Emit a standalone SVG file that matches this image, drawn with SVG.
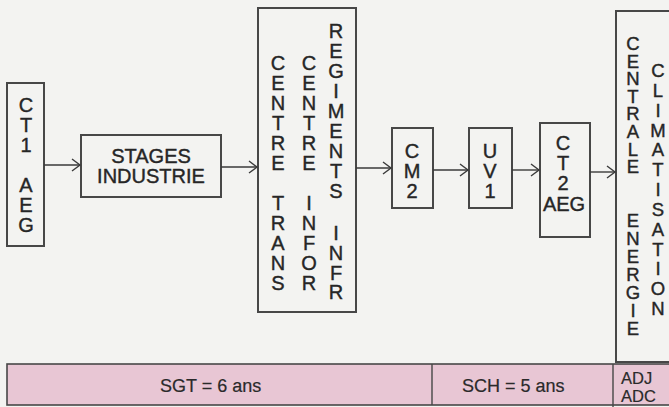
<svg xmlns="http://www.w3.org/2000/svg" width="669" height="407" viewBox="0 0 669 407">
<defs>
<marker id="arr" markerUnits="userSpaceOnUse" markerWidth="12" markerHeight="16" viewBox="-10 -8 12 16" refX="0" refY="0" orient="auto">
<path d="M-8,-6 L0,0 L-8,6" fill="none" stroke="#3a3a3a" stroke-width="1.4"/>
</marker>
</defs>
<style>
.box{fill:none;stroke:#474747;stroke-width:2}
.t{font-family:"Liberation Sans",Arial,sans-serif;font-size:20px;fill:#262626;stroke:#262626;stroke-width:0.4;text-anchor:middle}
.s{font-size:18.5px}
.b{font-family:"Liberation Sans",Arial,sans-serif;font-size:18px;fill:#2a2a2a;stroke:#2a2a2a;stroke-width:0.2}
.a{font-size:16.5px}
.c{fill:none;stroke:#3a3a3a;stroke-width:1.4;marker-end:url(#arr)}
</style>
<rect width="669" height="407" fill="#f3f3f1"/>
<g id="ct1">
<rect class="box" x="7" y="83" width="37" height="163"/>
<text class="t" x="26 26 26 26 26 26" y="112 132 152 192 212 232">CT1AEG</text>
</g>
<g id="stages">
<rect class="box" x="81" y="135" width="140" height="62"/>
<text class="t" x="151" y="163">STAGES</text>
<text class="t" x="151" y="183">INDUSTRIE</text>
</g>
<g id="centre">
<rect class="box" x="258" y="8" width="98" height="304"/>
<text class="t" x="278 278 278 278 278 278 278 278 278 278 278" y="70 90 110 130 150 170 210 230 250 270 290">CENTRETRANS</text>
<text class="t" x="309 309 309 309 309 309 309 309 309 309 309" y="70 90 110 130 150 170 210 230 250 270 290">CENTREINFOR</text>
<text class="t" x="336 336 336 336 336 336 336 336 336 336 336 336 336" y="38 58 78 98 118 138 158 178 198 240 260 280 299">REGIMENTSINFR</text>
</g>
<g id="cm2">
<rect class="box" x="392" y="128" width="41" height="80"/>
<text class="t" x="412 412 412" y="158 178 198">CM2</text>
</g>
<g id="uv1">
<rect class="box" x="469" y="128" width="43" height="80"/>
<text class="t" x="490 490 490" y="158 178 198">UV1</text>
</g>
<g id="ct2">
<rect class="box" x="540" y="123" width="50" height="114"/>
<text class="t" x="563 563 563" y="150 170 190">CT2</text>
<text class="t" x="564" y="211">AEG</text>
</g>
<g id="centrale">
<rect class="box" x="616" y="11" width="70" height="351"/>
<text class="t s" x="633 633 633 633 633 633 633 633 633 633 633 633 633 633 633" y="50 67.6 85.2 102.8 120.4 138 155.6 173.2 227 245 263 281 299 317 335">CENTRALEENERGIE</text>
<text class="t s" x="658 658 658 658 658 658 658 658 658 658 658 658 658" y="77 96.8 116.7 136.5 156.3 176.2 196 215.8 235.7 255.5 275.3 295.2 315">CLIMATISATION</text>
</g>
<g id="band">
<rect x="7" y="364" width="680" height="41" fill="#e8c6d4" stroke="#474747" stroke-width="1.6"/>
<line x1="432" y1="364" x2="432" y2="405" stroke="#474747" stroke-width="1.4"/>
<line x1="613" y1="364" x2="613" y2="407" stroke="#474747" stroke-width="1.4"/>
<text class="b" x="160" y="392">SGT = 6 ans</text>
<text class="b" x="462" y="392">SCH = 5 ans</text>
<text class="b a" x="621" y="384">ADJ</text>
<text class="b a" x="621" y="402">ADC</text>
</g>
<g id="connectors">
<line class="c" x1="44" y1="165" x2="80" y2="165"/>
<line class="c" x1="221" y1="167" x2="257" y2="167"/>
<line class="c" x1="356" y1="168" x2="391" y2="168"/>
<line class="c" x1="433" y1="170" x2="468" y2="170"/>
<line class="c" x1="512" y1="170" x2="539" y2="170"/>
<line class="c" x1="590" y1="172" x2="615" y2="172"/>
</g>
</svg>
